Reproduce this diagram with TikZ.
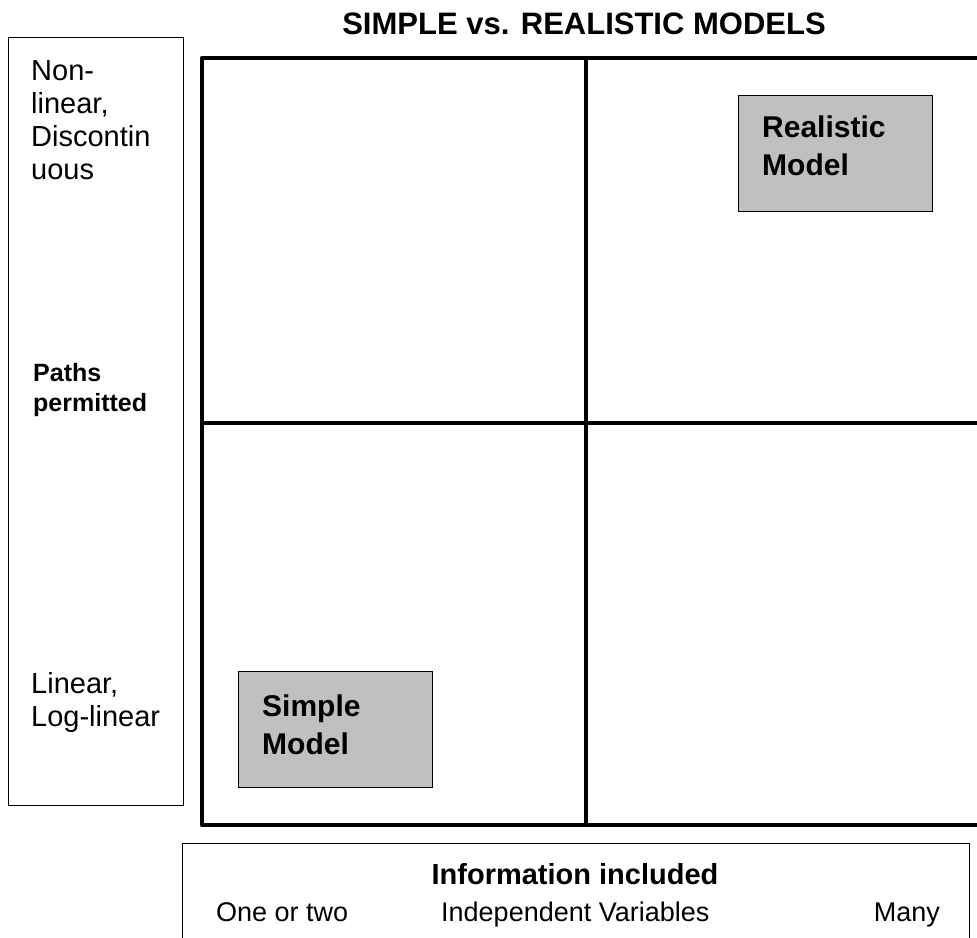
\documentclass[tikz,border=0pt]{standalone}
\usepackage{fontspec}
\setmainfont{Liberation Sans}
\usepackage{tikz}
\usetikzlibrary{positioning}
\definecolor{boxgrey}{HTML}{C0C0C0}

\begin{document}
\begin{tikzpicture}[x=1pt, y=-1pt,
    every node/.style={inner sep=0pt, font=\fontsize{29}{33}\selectfont},
    thinframe/.style={draw, line width=1.4pt, anchor=north west},
    modelbox/.style={thinframe, fill=boxgrey, minimum width=194pt,
      minimum height=116pt},
    modeltext/.style={align=left, anchor=base west,
      font=\fontsize{30}{38}\selectfont\bfseries},
    axistext/.style={align=left, anchor=base west},
    gridline/.style={line width=4.6pt, line join=round}]
  \useasboundingbox (0,0) rectangle (977,937);

  \node[font=\fontsize{31}{36}\selectfont\bfseries] (title) at (584,24)
    {SIMPLE vs. REALISTIC MODELS};

  % vertical axis panel (text nodes sit on their last baseline)
  \node[thinframe, minimum width=175pt, minimum height=768pt] (yaxis)
    at (8,37) {};
  \node[axistext] (ytop) at (31,179) {Non-\\linear,\\Discontin\\uous};
  \node[axistext, font=\fontsize{25}{30}\selectfont\bfseries] (ylabel)
    at (33,411) {Paths\\permitted};
  \node[axistext] (ybottom) at (31,726) {Linear,\\Log-linear};

  % the four quadrants
  \coordinate (gtl) at (202,58);
  \coordinate (gbl) at (202,825);
  \draw[gridline] (980,58) -- (gtl) -- (gbl) -- (980,825);
  \draw[gridline] (586,58) -- (586,825);
  \draw[gridline] (202,423) -- (980,423);

  \node[modelbox] (realbox) at (738,95) {};
  \node[modeltext] (real) at (762,175) {Realistic\\Model};
  \node[modelbox] (simplebox) at (238,671) {};
  \node[modeltext] (simple) at (262,754) {Simple\\Model};

  % horizontal axis panel
  \node[thinframe, minimum width=787pt, minimum height=120pt] (xaxis)
    at (182,843) {};
  \node[font=\fontsize{29}{33}\selectfont\bfseries] (xlabel) at (575,874)
    {Information included};
  \node[anchor=base west, font=\fontsize{27}{33}\selectfont] (xlow)
    at (216,921) {One or two};
  \node[anchor=base west, font=\fontsize{27}{33}\selectfont] (xmid)
    at (441,921) {Independent Variables};
  \node[anchor=base east, font=\fontsize{27}{33}\selectfont] (xhigh)
    at (940,921) {Many};
\end{tikzpicture}
\end{document}
